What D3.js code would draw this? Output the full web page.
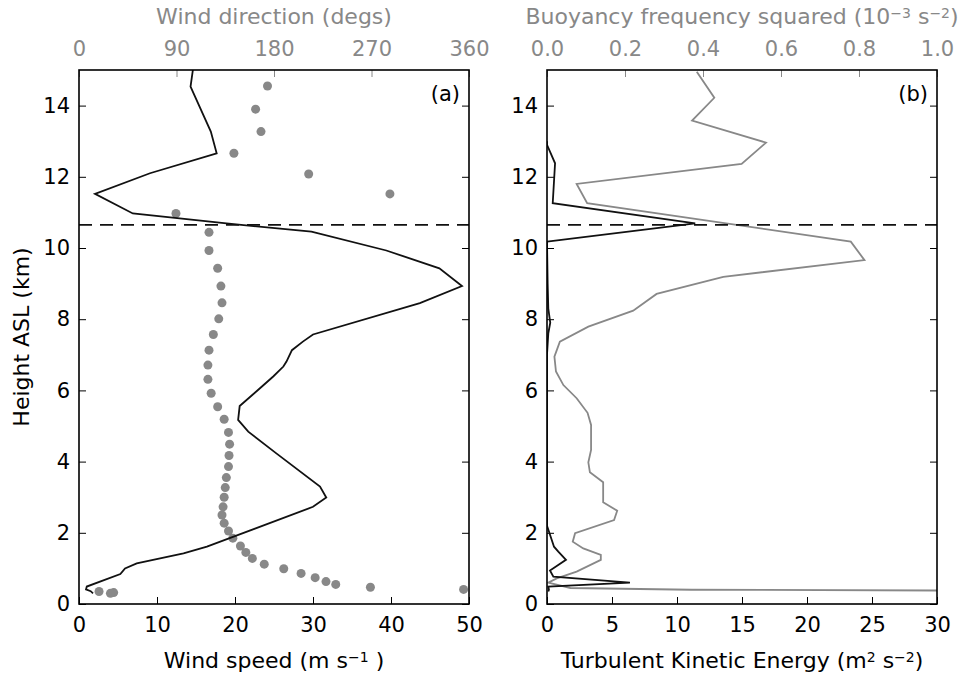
<!DOCTYPE html>
<html>
<head>
<meta charset="utf-8">
<script src="https://cdn.jsdelivr.net/npm/d3@7"></script>
<style>
  body { margin: 0; background: #fff; }
  svg { display: block; font-family: "DejaVu Sans", sans-serif; }
</style>
</head>
<body>
<div id="viz"></div>
<script>
// panel (a): wind speed profile (black line)
const wsHeight = [15.0, 14.53, 13.27, 12.66, 12.1, 11.52, 10.97, 10.69, 10.46, 9.93, 9.43, 8.93, 8.45, 7.57, 7.37, 7.13, 6.81, 6.67, 6.39, 6.06, 5.56, 5.17, 4.84, 4.23, 3.30, 2.99, 2.73, 1.61, 1.42, 1.14, 1.00, 0.84, 0.49, 0.41, 0.36, 0.30];
const wsValue = [14.6, 14.3, 16.9, 17.65, 9.1, 2.05, 6.9, 18.9, 29.8, 39.4, 46.2, 49.1, 43.7, 30.0, 28.7, 27.3, 26.6, 26.2, 24.9, 23.2, 20.6, 20.4, 21.7, 25.3, 30.9, 31.7, 30.0, 16.4, 13.4, 7.4, 5.9, 5.3, 1.0, 0.9, 1.5, 1.8];

// panel (a): wind direction (grey dots)
const wdHeight = [14.55, 13.9, 13.27, 12.66, 12.08, 11.52, 10.97, 10.44, 9.93, 9.43, 8.93, 8.46, 8.01, 7.57, 7.13, 6.71, 6.31, 5.92, 5.54, 5.19, 4.82, 4.49, 4.17, 3.86, 3.55, 3.27, 3.00, 2.73, 2.50, 2.27, 2.05, 1.85, 1.63, 1.45, 1.28, 1.12, 0.99, 0.86, 0.74, 0.63, 0.55, 0.47, 0.41, 0.35, 0.32, 0.30];
const wdValue = [174, 163, 168, 143, 212, 287, 89.5, 120, 120, 128, 131, 132, 129, 124, 120, 119, 119, 122, 128, 134, 138, 139, 138.5, 138, 136, 135, 134, 133, 132, 134, 138, 142, 149, 154, 160, 171, 189, 205, 218, 228, 237, 269, 355, 18.5, 32, 29];

// panel (b): buoyancy frequency squared (grey line)
const n2Height = [14.95, 14.22, 13.58, 12.96, 12.36, 11.80, 11.26, 10.18, 9.66, 9.19, 8.71, 8.24, 7.79, 7.37, 6.95, 6.53, 6.15, 5.78, 5.37, 5.03, 4.33, 3.98, 3.70, 3.42, 2.86, 2.62, 2.36, 1.99, 1.75, 1.56, 1.38, 1.24, 0.91, 0.72, 0.60, 0.45, 0.40, 0.37];
const n2Value = [0.384, 0.429, 0.372, 0.5615, 0.499, 0.076, 0.103, 0.779, 0.814, 0.452, 0.281, 0.221, 0.106, 0.033, 0.019, 0.023, 0.042, 0.076, 0.104, 0.113, 0.113, 0.106, 0.110, 0.144, 0.144, 0.180, 0.172, 0.072, 0.066, 0.093, 0.138, 0.138, 0.076, 0.025, 0.003, 0.06, 0.37, 1.3];

// panel (b): turbulent kinetic energy (black line)
const tkeHeight = [13.0, 12.9, 12.38, 11.26, 10.69, 10.18, 9.0, 8.3, 7.9, 7.6, 7.0, 2.2, 1.61, 1.47, 1.24, 0.94, 0.77, 0.60, 0.49, 0.40, 0.35];
const tkeValue = [0, 0, 0.62, 0.44, 11.4, 0, 0.05, 0.1, 0.25, 0.1, 0, 0, 0.54, 0.87, 1.46, 0.23, 0.49, 6.38, 0.1, 0.15, 0.1];

const tropopause = 10.65;

const heightTicks = [0, 2, 4, 6, 8, 10, 12, 14];
const speedTicks = [0, 10, 20, 30, 40, 50];
const dirTicks = [0, 90, 180, 270, 360];
const tkeTicks = [0, 5, 10, 15, 20, 25, 30];
const n2Ticks = [0, 0.2, 0.4, 0.6, 0.8, 1.0];

const width = 971;
const height = 677;
const plotTop = 70, plotBottom = 604;
const grey = "#888888";
const tickFont = 21;
const labelFont = 22;

const svg = d3.select('#viz').append('svg')
    .attr('width', width)
    .attr('height', height);

const y = d3.scaleLinear().domain([0, 15]).range([plotBottom, plotTop]);

// x scales
const xSpeed = d3.scaleLinear().domain([0, 50]).range([79, 469]);
const xDir = d3.scaleLinear().domain([0, 360]).range([79, 469]);
const xTke = d3.scaleLinear().domain([0, 30]).range([547, 937]);
const xN2 = d3.scaleLinear().domain([0, 1]).range([547, 937]);

function styleAxis(g, color) {
    g.select('.domain').remove();
    g.selectAll('.tick line').attr('stroke', color).attr('stroke-width', 1);
    g.selectAll('.tick text')
        .attr('fill', color)
        .style('font-size', tickFont + 'px')
        .style('font-family', '"DejaVu Sans", sans-serif');
}

// label with superscript parts: [text, isSup]
function richText(x0, y0, parts, color, rotate) {
    const t = svg.append('text')
        .attr('x', x0).attr('y', y0)
        .attr('text-anchor', 'middle')
        .attr('fill', color)
        .style('font-size', labelFont + 'px');
    if (rotate) t.attr('transform', `rotate(-90,${x0},${y0})`);
    parts.forEach(p => {
        const s = t.append('tspan').text(p[0]);
        if (p[1]) s.attr('baseline-shift', '45%').style('font-size', '14px');
    });
    return t;
}

function panel(xBottom, xTop, bottomTicks, topTicks, bottomFmt, topFmt, id) {
    const x0 = xBottom.range()[0], x1 = xBottom.range()[1];

    svg.append('clipPath').attr('id', id)
        .append('rect').attr('x', x0).attr('y', plotTop)
        .attr('width', x1 - x0).attr('height', plotBottom - plotTop);

    svg.append('g').attr('transform', `translate(0,${plotBottom})`)
        .call(d3.axisBottom(xBottom).tickValues(bottomTicks).tickFormat(bottomFmt)
            .tickSizeInner(-7).tickSizeOuter(0).tickPadding(13))
        .call(g => styleAxis(g, 'black'));

    svg.append('g').attr('transform', `translate(0,${plotTop})`)
        .call(d3.axisTop(xTop).tickValues(topTicks).tickFormat(topFmt)
            .tickSizeInner(-7).tickSizeOuter(0).tickPadding(14))
        .call(g => styleAxis(g, grey));

    svg.append('g').attr('transform', `translate(${x0},0)`)
        .call(d3.axisLeft(y).tickValues(heightTicks).tickFormat(d3.format('d'))
            .tickSizeInner(-7).tickSizeOuter(0).tickPadding(9))
        .call(g => styleAxis(g, 'black'));

    svg.append('g').attr('transform', `translate(${x1},0)`)
        .call(d3.axisRight(y).tickValues(heightTicks).tickFormat('')
            .tickSizeInner(-7).tickSizeOuter(0))
        .call(g => styleAxis(g, 'black'));

    return svg.append('g').attr('clip-path', `url(#${id})`);
}

// panel (a)
const pa = panel(xSpeed, xDir, speedTicks, dirTicks, d3.format('d'), d3.format('d'), 'clipA');

pa.selectAll('circle')
    .data(wdHeight)
    .enter()
    .append('circle')
    .attr('cx', (d, i) => xDir(wdValue[i]))
    .attr('cy', d => y(d))
    .attr('r', 4.5)
    .attr('fill', grey);

pa.append('path')
    .attr('d', d3.line().x((d, i) => xSpeed(wsValue[i])).y(d => y(d))(wsHeight))
    .attr('fill', 'none')
    .attr('stroke', '#111')
    .attr('stroke-width', 1.8);

pa.append('line')
    .attr('x1', xSpeed(0)).attr('x2', xSpeed(50))
    .attr('y1', y(tropopause)).attr('y2', y(tropopause))
    .attr('stroke', '#111').attr('stroke-width', 1.6)
    .attr('stroke-dasharray', '13,8');

// panel (b)
const pb = panel(xTke, xN2, tkeTicks, n2Ticks, d3.format('d'), d3.format('.1f'), 'clipB');

pb.append('path')
    .attr('d', d3.line().x((d, i) => xN2(n2Value[i])).y(d => y(d))(n2Height))
    .attr('fill', 'none')
    .attr('stroke', grey)
    .attr('stroke-width', 1.8);

pb.append('path')
    .attr('d', d3.line().x((d, i) => xTke(tkeValue[i])).y(d => y(d))(tkeHeight))
    .attr('fill', 'none')
    .attr('stroke', '#111')
    .attr('stroke-width', 1.8);

pb.append('line')
    .attr('x1', xTke(0)).attr('x2', xTke(30))
    .attr('y1', y(tropopause)).attr('y2', y(tropopause))
    .attr('stroke', '#111').attr('stroke-width', 1.6)
    .attr('stroke-dasharray', '13,8');

// frames
[xSpeed, xTke].forEach(sc => {
    const r = sc.range();
    svg.append('rect')
        .attr('x', r[0]).attr('y', plotTop)
        .attr('width', r[1] - r[0]).attr('height', plotBottom - plotTop)
        .attr('fill', 'none').attr('stroke', 'black').attr('stroke-width', 1.6);
});

// panel letters
svg.append('text').attr('x', 460).attr('y', 101).attr('text-anchor', 'end')
    .style('font-size', tickFont + 'px').text('(a)');
svg.append('text').attr('x', 928).attr('y', 101).attr('text-anchor', 'end')
    .style('font-size', tickFont + 'px').text('(b)');

// axis titles
richText(274, 668, [['Wind speed (m s', 0], ['\u22121', 1], [' )', 0]], 'black');
richText(742, 668, [['Turbulent Kinetic Energy (m', 0], ['2', 1], ['  s', 0], ['\u22122', 1], [')', 0]], 'black');
richText(274, 24, [['Wind direction (degs)', 0]], grey);
richText(742, 24, [['Buoyancy frequency squared (10', 0], ['\u22123', 1], ['  s', 0], ['\u22122', 1], [')', 0]], grey);
richText(29, 337, [['Height ASL (km)', 0]], 'black', true);
</script>
</body>
</html>
